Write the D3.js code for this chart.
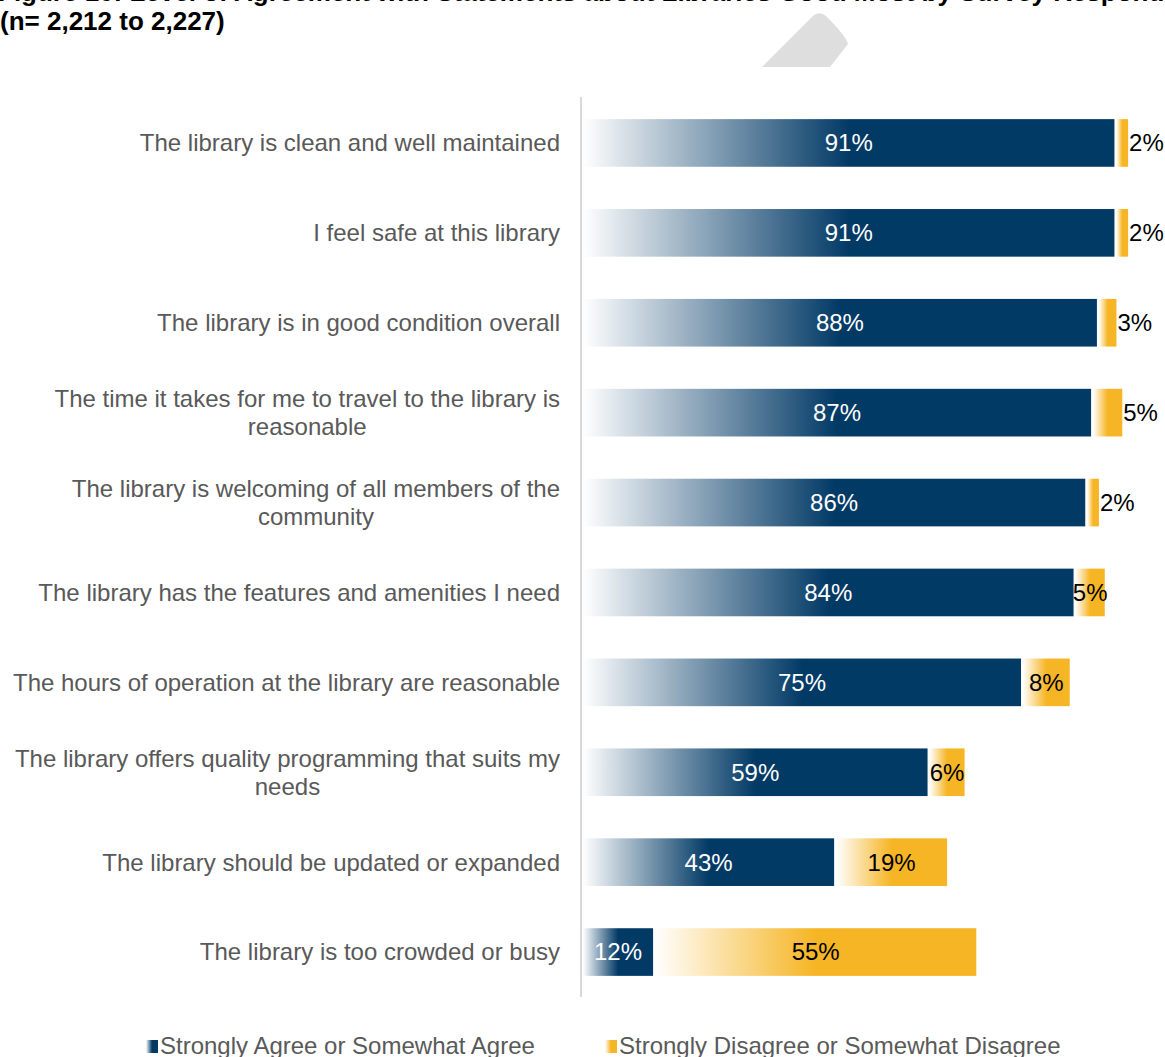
<!DOCTYPE html>
<html>
<head>
<meta charset="utf-8">
<script src="https://cdn.jsdelivr.net/npm/d3@7"></script>
<style>
  html, body { margin: 0; padding: 0; background: #fff; }
  svg { display: block; font-family: "Liberation Sans", Arial, sans-serif; }
</style>
</head>
<body>
<svg id="chart" width="1165" height="1057"></svg>
<script>
// Survey statements and shares of respondents (percent)
const statements = [
  "The library is clean and well maintained",
  "I feel safe at this library",
  "The library is in good condition overall",
  "The time it takes for me to travel to the library is|reasonable",
  "The library is welcoming of all members of the|community",
  "The library has the features and amenities I need",
  "The hours of operation at the library are reasonable",
  "The library offers quality programming that suits my|needs",
  "The library should be updated or expanded",
  "The library is too crowded or busy"
];
const agree    = [91, 91, 88, 87, 86, 84, 75, 59, 43, 12];
const disagree = [2, 2, 3, 5, 2, 5, 8, 6, 19, 55];
// small disagree labels that sit just past the end of the bar
const disagreeLabelOutside = [true, true, true, true, true, false, false, false, false, false];

const seriesNames = ["Strongly Agree or Somewhat Agree", "Strongly Disagree or Somewhat Disagree"];
const titleLine1 = "Figure 10: Level of Agreement with Statements about Libraries Good Most by Survey Respondents";
const titleLine2 = "(n= 2,212 to 2,227)";

const NAVY = "#023a66";
const GOLD = "#f6b524";
const LABEL_GREY = "#595959";
const FS = 24;

const svg = d3.select("#chart");
const defs = svg.append("defs");

function fadeGradient(id, color) {
  const g = defs.append("linearGradient").attr("id", id)
    .attr("x1", "0").attr("x2", "1").attr("y1", "0").attr("y2", "0");
  g.append("stop").attr("offset", "0").attr("stop-color", "#ffffff");
  g.append("stop").attr("offset", "0.5").attr("stop-color", color);
  g.append("stop").attr("offset", "1").attr("stop-color", color);
}
fadeGradient("fadeNavy", NAVY);
fadeGradient("fadeGold", GOLD);

// Title (first line runs off the top of the page)
svg.append("text").attr("x", -2).attr("y", 1)
  .attr("font-size", 26).attr("font-weight", "bold").attr("fill", "#000")
  .text(titleLine1);
svg.append("text").attr("x", 0).attr("y", 30)
  .attr("font-size", 26).attr("font-weight", "bold").attr("fill", "#000")
  .text(titleLine2);

// Grey decorative tab
svg.append("path")
  .attr("d", "M762,67 L812,17 Q819,10 826,16 Q846,36 848,44 L830,67 Z")
  .attr("fill", "#dedede");

const x = d3.scaleLinear().domain([0, 100]).range([583, 1167]);
const y = d3.scaleBand().domain(d3.range(statements.length))
  .range([98, 997]).paddingInner(0.47).paddingOuter(0.235);

// Category axis line
svg.append("line")
  .attr("x1", 581).attr("x2", 581).attr("y1", 97).attr("y2", 997)
  .attr("stroke", "#d9d9d9").attr("stroke-width", 2);

const rows = svg.append("g").selectAll("g")
  .data(statements.map((s, i) => ({ s, i, a: agree[i], d: disagree[i] })))
  .join("g");

// Agree segment
rows.append("rect")
  .attr("x", d => x(0))
  .attr("y", d => y(d.i))
  .attr("width", d => x(d.a) - x(0))
  .attr("height", y.bandwidth())
  .attr("fill", "url(#fadeNavy)");

// Disagree segment (thin white gap before it)
rows.append("rect")
  .attr("x", d => x(d.a) + 2)
  .attr("y", d => y(d.i))
  .attr("width", d => x(d.a + d.d) - x(d.a))
  .attr("height", y.bandwidth())
  .attr("fill", "url(#fadeGold)");

// Value labels
rows.append("text")
  .attr("x", d => (x(0) + x(d.a)) / 2)
  .attr("y", d => y(d.i) + y.bandwidth() / 2)
  .attr("dy", "0.35em")
  .attr("text-anchor", "middle")
  .attr("font-size", FS).attr("fill", "#fff")
  .text(d => d.a + "%");

rows.append("text")
  .attr("x", d => disagreeLabelOutside[d.i]
      ? x(d.a + d.d) + 3
      : (x(d.a) + 2 + x(d.a + d.d) + 2) / 2)
  .attr("y", d => y(d.i) + y.bandwidth() / 2)
  .attr("dy", "0.35em")
  .attr("text-anchor", d => disagreeLabelOutside[d.i] ? "start" : "middle")
  .attr("font-size", FS).attr("fill", "#000")
  .text(d => d.d + "%");

// Category labels: single lines right-aligned, wrapped lines centred on the widest line
const labelRight = 560;
rows.each(function (d) {
  const lines = d.s.split("|");
  const g = d3.select(this).append("text")
    .attr("font-size", FS).attr("fill", LABEL_GREY);
  const cy = y(d.i) + y.bandwidth() / 2;
  const lh = 28;
  const spans = lines.map((ln, k) => g.append("tspan")
    .attr("y", cy + (k - (lines.length - 1) / 2) * lh)
    .attr("dy", "0.35em")
    .text(ln));
  if (lines.length === 1) {
    spans[0].attr("x", labelRight).attr("text-anchor", "end");
  } else {
    const w = d3.max(spans, s => s.node().getComputedTextLength());
    const cx = labelRight - w / 2;
    spans.forEach(s => s.attr("x", cx).attr("text-anchor", "middle"));
  }
});

// Legend
const legend = svg.append("g");
const legendItems = [
  { name: seriesNames[0], fill: "url(#fadeNavy)", x: 146 },
  { name: seriesNames[1], fill: "url(#fadeGold)", x: 605 }
];
legendItems.forEach(it => {
  legend.append("rect").attr("x", it.x).attr("y", 1040)
    .attr("width", 12).attr("height", 13).attr("fill", it.fill);
  legend.append("text").attr("x", it.x + 14).attr("y", 1054)
    .attr("font-size", FS).attr("fill", LABEL_GREY)
    .text(it.name);
});
</script>
</body>
</html>
